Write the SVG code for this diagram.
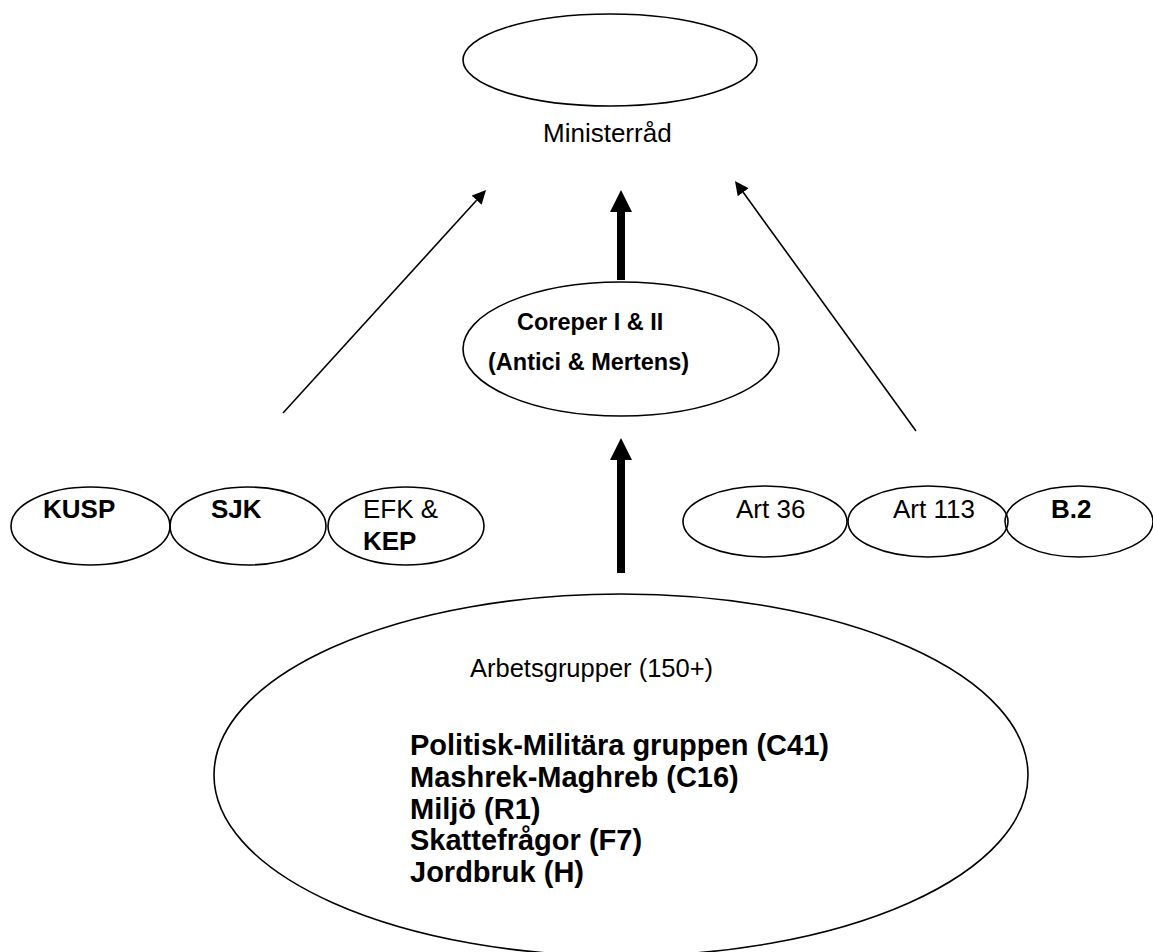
<svg xmlns="http://www.w3.org/2000/svg" width="1153" height="952" viewBox="0 0 1153 952">
<style>
.node{fill:none;stroke:#000;stroke-width:1.6}
.t{font-family:"Liberation Sans",Arial,sans-serif;font-size:26px;fill:#000}
.b{font-weight:bold}
.thin{stroke:#000;stroke-width:1.6;fill:none}
.thick{stroke:#000;stroke-width:8;fill:none}
</style>
<defs>
<marker id="hThin" markerUnits="userSpaceOnUse" markerWidth="14" markerHeight="14" refX="0" refY="6.75" orient="auto"><path d="M0,0 L14,6.75 L0,13.5 z" fill="#000"/></marker>
<marker id="hThick" markerUnits="userSpaceOnUse" markerWidth="22" markerHeight="22" refX="0" refY="11" orient="auto"><path d="M0,0 L22,11 L0,22 z" fill="#000"/></marker>
</defs>
<rect width="1153" height="952" fill="#fff"/>
<g id="connectors">
<line class="thin" x1="283" y1="413" x2="476.6" y2="200.3" marker-end="url(#hThin)"/>
<line class="thin" x1="916" y1="431" x2="743.2" y2="192.3" marker-end="url(#hThin)"/>
<line class="thick" x1="621" y1="280" x2="621" y2="212" marker-end="url(#hThick)"/>
<line class="thick" x1="621" y1="573" x2="621" y2="460" marker-end="url(#hThick)"/>
</g>
<g id="ministerrad">
<ellipse class="node" cx="610" cy="60" rx="147" ry="46"/>
<text class="t" x="543" y="142">Ministerråd</text>
</g>
<g id="coreper">
<ellipse class="node" cx="621" cy="349" rx="158" ry="67"/>
<text class="t b" x="517" y="330" style="font-size:23.5px">Coreper I &amp; II</text>
<text class="t b" x="488" y="370" style="font-size:23.5px">(Antici &amp; Mertens)</text>
</g>
<g id="kusp">
<ellipse class="node" cx="90.5" cy="526" rx="79.5" ry="39"/>
<text class="t b" x="43" y="518">KUSP</text>
</g>
<g id="sjk">
<ellipse class="node" cx="248" cy="526" rx="78" ry="39"/>
<text class="t b" x="211" y="518">SJK</text>
</g>
<g id="efk">
<ellipse class="node" cx="406" cy="526" rx="78" ry="39"/>
<text class="t" x="363" y="518">EFK &amp;</text>
<text class="t b" x="363" y="550">KEP</text>
</g>
<g id="art36">
<ellipse class="node" cx="765" cy="521.5" rx="82" ry="35.5"/>
<text class="t" x="736" y="518">Art 36</text>
</g>
<g id="art113">
<ellipse class="node" cx="928" cy="521.5" rx="80" ry="35.5"/>
<text class="t" x="893" y="518">Art 113</text>
</g>
<g id="b2">
<ellipse class="node" cx="1079" cy="521.5" rx="74" ry="35.5"/>
<text class="t b" x="1051" y="518">B.2</text>
</g>
<g id="arbetsgrupper">
<ellipse class="node" cx="621" cy="775" rx="407" ry="181"/>
<text class="t" x="470" y="677" style="font-size:25.5px">Arbetsgrupper (150+)</text>
<text class="t b" x="410" y="755" style="font-size:29px">Politisk-Militära gruppen (C41)</text>
<text class="t b" x="410" y="787" style="font-size:29px">Mashrek-Maghreb (C16)</text>
<text class="t b" x="410" y="818.5" style="font-size:29px">Miljö (R1)</text>
<text class="t b" x="410" y="850" style="font-size:29px">Skattefrågor (F7)</text>
<text class="t b" x="410" y="882" style="font-size:29px">Jordbruk (H)</text>
</g>
</svg>
